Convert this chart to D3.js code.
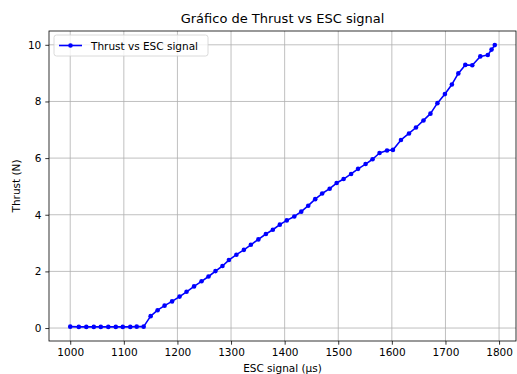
<!DOCTYPE html>
<html>
<head>
<meta charset="utf-8">
<script src="https://cdn.jsdelivr.net/npm/d3@7/dist/d3.min.js"></script>
<style>
  html, body { margin: 0; padding: 0; background: #fff; }
  svg { display: block; font-family: "DejaVu Sans", sans-serif; }
</style>
</head>
<body>
<svg id="chart" width="517" height="374"></svg>
<script>
// ESC signal (µs) and measured thrust (N)
const escSignal = [
  1000, 1016, 1030, 1044, 1057, 1071, 1085, 1098, 1112, 1124,
  1137, 1150, 1163, 1176, 1190, 1204, 1217, 1231, 1245, 1258,
  1271, 1284, 1296, 1310, 1324, 1337, 1351, 1365, 1378, 1391,
  1404, 1418, 1431, 1444, 1457, 1470, 1484, 1497, 1510, 1524,
  1537, 1551, 1564, 1577, 1591, 1602, 1617, 1632, 1645, 1659,
  1672, 1685, 1699, 1712, 1724, 1737, 1750, 1765, 1779, 1786,
  1792
];
const thrust = [
  0.05, 0.04, 0.04, 0.04, 0.04, 0.04, 0.04, 0.04, 0.04, 0.05,
  0.05, 0.42, 0.63, 0.79, 0.94, 1.11, 1.28, 1.47, 1.65, 1.82,
  2.01, 2.19, 2.40, 2.59, 2.76, 2.94, 3.13, 3.32, 3.47, 3.65,
  3.80, 3.94, 4.11, 4.32, 4.55, 4.75, 4.92, 5.12, 5.26, 5.44,
  5.62, 5.79, 5.96, 6.18, 6.27, 6.29, 6.64, 6.87, 7.08, 7.33,
  7.57, 7.94, 8.26, 8.60, 8.99, 9.29, 9.28, 9.59, 9.64, 9.83,
  9.99
];
const xTicks = [1000, 1100, 1200, 1300, 1400, 1500, 1600, 1700, 1800];
const yTicks = [0, 2, 4, 6, 8, 10];

const titleText = "Gráfico de Thrust vs ESC signal";
const xLabel = "ESC signal (µs)";
const yLabel = "Thrust (N)";
const seriesName = "Thrust vs ESC signal";

const data = escSignal.map((x, i) => ({ x, y: thrust[i] }));

const plot = { left: 49, right: 516, top: 31, bottom: 341 };
const svg = d3.select("#chart");

// 5% padding on each side of the data extent
function padded(ext) {
  const d = (ext[1] - ext[0]) * 0.05;
  return [ext[0] - d, ext[1] + d];
}
const x = d3.scaleLinear().domain(padded(d3.extent(escSignal))).range([plot.left, plot.right]);
const y = d3.scaleLinear().domain(padded(d3.extent(thrust))).range([plot.bottom, plot.top]);

// grid
const grid = svg.append("g").attr("stroke", "#b0b0b0").attr("stroke-width", 0.8);
grid.selectAll(".gx").data(xTicks).join("line")
  .attr("x1", d => x(d)).attr("x2", d => x(d))
  .attr("y1", plot.top).attr("y2", plot.bottom);
grid.selectAll(".gy").data(yTicks).join("line")
  .attr("y1", d => y(d)).attr("y2", d => y(d))
  .attr("x1", plot.left).attr("x2", plot.right);

// axes
const xAxis = svg.append("g")
  .attr("transform", `translate(0,${plot.bottom})`)
  .call(d3.axisBottom(x).tickValues(xTicks).tickSize(3.7).tickPadding(4).tickFormat(d3.format("d")));
const yAxis = svg.append("g")
  .attr("transform", `translate(${plot.left},0)`)
  .call(d3.axisLeft(y).tickValues(yTicks).tickSize(3.7).tickPadding(4).tickFormat(d3.format("d")));
[xAxis, yAxis].forEach(a => {
  a.select(".domain").remove();
  a.selectAll("line").attr("stroke", "#000").attr("stroke-width", 0.8);
  a.selectAll("text").attr("font-family", "DejaVu Sans, sans-serif")
    .attr("font-size", 10.5).attr("fill", "#000");
});

// frame
svg.append("rect")
  .attr("x", plot.left).attr("y", plot.top)
  .attr("width", plot.right - plot.left).attr("height", plot.bottom - plot.top)
  .attr("fill", "none").attr("stroke", "#000").attr("stroke-width", 0.8);

// series
const line = d3.line().x(d => x(d.x)).y(d => y(d.y));
svg.append("path").datum(data)
  .attr("d", line).attr("fill", "none")
  .attr("stroke", "#0000ff").attr("stroke-width", 1.6).attr("stroke-linejoin", "round");
svg.append("g").selectAll("circle").data(data).join("circle")
  .attr("cx", d => x(d.x)).attr("cy", d => y(d.y)).attr("r", 2.3)
  .attr("fill", "#0000ff");

// title and axis labels
svg.append("text")
  .attr("x", (plot.left + plot.right) / 2).attr("y", 23)
  .attr("text-anchor", "middle").attr("font-size", 13).attr("fill", "#000")
  .text(titleText);
svg.append("text")
  .attr("x", (plot.left + plot.right) / 2).attr("y", 372)
  .attr("text-anchor", "middle").attr("font-size", 10.5).attr("fill", "#000")
  .text(xLabel);
svg.append("text")
  .attr("transform", `translate(20,${(plot.top + plot.bottom) / 2}) rotate(-90)`)
  .attr("text-anchor", "middle").attr("font-size", 10.5).attr("fill", "#000")
  .text(yLabel);

// legend
const lg = svg.append("g").attr("transform", "translate(54,35)");
lg.append("rect").attr("x", 0).attr("y", 0).attr("width", 154).attr("height", 21)
  .attr("rx", 2.5).attr("fill", "#fff").attr("fill-opacity", 0.8)
  .attr("stroke", "#d0d0d0").attr("stroke-width", 0.8);
lg.append("line").attr("x1", 5).attr("x2", 28).attr("y1", 10.5).attr("y2", 10.5)
  .attr("stroke", "#0000ff").attr("stroke-width", 1.6);
lg.append("circle").attr("cx", 16.5).attr("cy", 10.5).attr("r", 2.3).attr("fill", "#0000ff");
lg.append("text").attr("x", 37).attr("y", 14.5).attr("font-size", 10.5).attr("fill", "#000")
  .text(seriesName);
</script>
</body>
</html>
